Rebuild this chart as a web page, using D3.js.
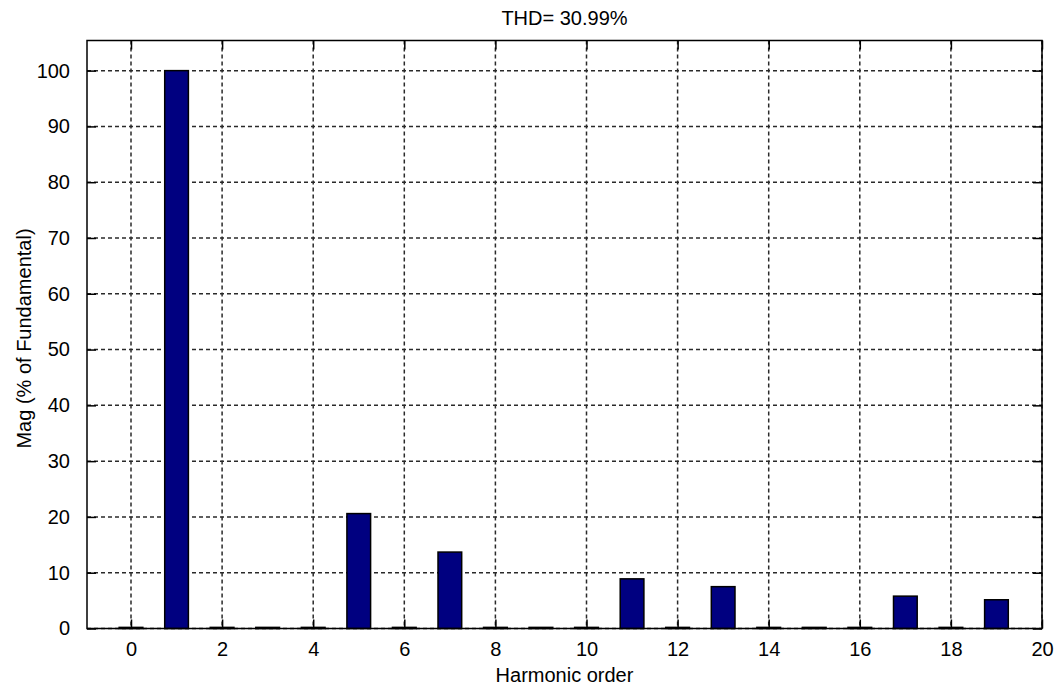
<!DOCTYPE html>
<html>
<head>
<meta charset="utf-8">
<script src="https://cdn.jsdelivr.net/npm/d3@7"></script>
<style>
  html, body { margin: 0; padding: 0; background: #fff; }
  svg { display: block; font-family: "Liberation Sans", Arial, sans-serif; }
</style>
</head>
<body>
<div id="chart"></div>
<script>
// harmonic order and magnitude (% of fundamental)
const orders = [0, 1, 2, 3, 4, 5, 6, 7, 8, 9, 10, 11, 12, 13, 14, 15, 16, 17, 18, 19];
const magnitudes = [0.2, 100, 0.2, 0.2, 0.2, 20.6, 0.2, 13.7, 0.2, 0.2, 0.2, 8.9, 0.2, 7.5, 0.2, 0.2, 0.2, 5.8, 0.2, 5.15];
const xTicks = [0, 2, 4, 6, 8, 10, 12, 14, 16, 18, 20];
const yTicks = [0, 10, 20, 30, 40, 50, 60, 70, 80, 90, 100];
const title = 'THD= 30.99%';
const xLabel = 'Harmonic order';
const yLabel = 'Mag (% of Fundamental)';

const width = 1057;
const height = 688;
const margin = { top: 40.5, right: 15, bottom: 59.5, left: 87 };
const fontSize = 20;

const data = orders.map((o, i) => ({ order: o, mag: magnitudes[i] }));

const x = d3.scaleLinear()
    .domain([-0.966, 20])
    .range([margin.left, width - margin.right]);

const y = d3.scaleLinear()
    .domain([0, 105.4])
    .range([height - margin.bottom, margin.top]);

const svg = d3.select('#chart')
    .append('svg')
    .attr('width', width)
    .attr('height', height);

const [x0, x1] = x.range();
const [y0, y1] = y.range();

// grid
svg.append('g')
    .selectAll('line')
    .data(xTicks)
    .enter()
    .append('line')
    .attr('x1', d => x(d)).attr('x2', d => x(d))
    .attr('y1', y1).attr('y2', y0)
    .attr('stroke', '#2a2a2a')
    .attr('stroke-width', 1.5)
    .attr('stroke-dasharray', '4,3');

svg.append('g')
    .selectAll('line')
    .data(yTicks)
    .enter()
    .append('line')
    .attr('x1', x0).attr('x2', x1)
    .attr('y1', d => y(d)).attr('y2', d => y(d))
    .attr('stroke', '#2a2a2a')
    .attr('stroke-width', 1.5)
    .attr('stroke-dasharray', '4,3');

// bars
const barW = 0.52;
svg.append('g')
    .selectAll('rect')
    .data(data)
    .enter()
    .append('rect')
    .attr('x', d => x(d.order - barW / 2))
    .attr('y', d => y(d.mag))
    .attr('width', x(barW) - x(0))
    .attr('height', d => y(0) - y(d.mag))
    .attr('fill', '#000080')
    .attr('stroke', '#000')
    .attr('stroke-width', 1.5);

// axes: ticks pointing inward on all four sides
const tickLen = 9;
svg.append('g')
    .attr('transform', `translate(0, ${y0})`)
    .call(d3.axisBottom(x).tickValues(xTicks).tickSizeInner(-tickLen).tickSizeOuter(0).tickPadding(13))
    .call(g => g.select('.domain').remove());

svg.append('g')
    .attr('transform', `translate(0, ${y1})`)
    .call(d3.axisTop(x).tickValues(xTicks).tickSizeInner(-tickLen).tickSizeOuter(0).tickFormat(''))
    .call(g => g.select('.domain').remove());

svg.append('g')
    .attr('transform', `translate(${x0}, 0)`)
    .call(d3.axisLeft(y).tickValues(yTicks).tickSizeInner(-tickLen).tickSizeOuter(0).tickPadding(17))
    .call(g => g.select('.domain').remove());

svg.append('g')
    .attr('transform', `translate(${x1}, 0)`)
    .call(d3.axisRight(y).tickValues(yTicks).tickSizeInner(-tickLen).tickSizeOuter(0).tickFormat(''))
    .call(g => g.select('.domain').remove());

svg.selectAll('.tick line').attr('stroke', '#000').attr('stroke-width', 1.5);
svg.selectAll('.tick text')
    .attr('fill', '#000')
    .style('font-size', fontSize + 'px')
    .style('font-family', '"Liberation Sans", Arial, sans-serif');

// frame
svg.append('rect')
    .attr('x', x0).attr('y', y1)
    .attr('width', x1 - x0).attr('height', y0 - y1)
    .attr('fill', 'none')
    .attr('stroke', '#000')
    .attr('stroke-width', 1.5);

// labels
svg.append('text')
    .attr('x', (x0 + x1) / 2)
    .attr('y', 25)
    .attr('text-anchor', 'middle')
    .style('font-size', fontSize + 'px')
    .text(title);

svg.append('text')
    .attr('x', (x0 + x1) / 2)
    .attr('y', 682)
    .attr('text-anchor', 'middle')
    .style('font-size', fontSize + 'px')
    .text(xLabel);

svg.append('text')
    .attr('transform', `translate(31, ${(y0 + y1) / 2 + 4}) rotate(-90)`)
    .attr('text-anchor', 'middle')
    .style('font-size', fontSize + 'px')
    .text(yLabel);
</script>
</body>
</html>
